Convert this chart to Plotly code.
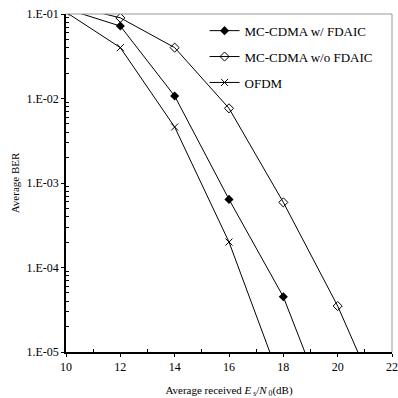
import plotly.graph_objects as go

snr_fdaic = [10, 12, 14, 16, 18, 20]
ber_fdaic = [0.115, 0.072, 0.0107, 6.4e-4, 4.5e-5, 1.0e-6]

snr_nofdaic = [10, 12, 14, 16, 18, 20, 22]
ber_nofdaic = [0.13, 0.090, 0.040, 7.65e-3, 5.9e-4, 3.5e-5, 1.2e-6]

snr_ofdm = [10, 12, 14, 16, 18]
ber_ofdm = [0.105, 0.040, 4.6e-3, 2.0e-4, 3.7e-6]

y_major = [1e-5, 1e-4, 1e-3, 1e-2, 1e-1]
y_labels = ["1.E-05", "1.E-04", "1.E-03", "1.E-02", "1.E-01"]
y_minor = [m * 10 ** e for e in range(-5, -1) for m in range(2, 10)]
x_major = [10, 12, 14, 16, 18, 20, 22]
x_minor = [11, 13, 15, 17, 19, 21]

FONT = "Liberation Serif"

fig = go.Figure()
fig.add_trace(go.Scatter(x=snr_fdaic, y=ber_fdaic, mode="lines+markers",
                         name="MC-CDMA w/ FDAIC", legendgroup="a",
                         line=dict(color="black", width=1),
                         marker=dict(symbol="diamond", size=7, color="black")))
fig.add_trace(go.Scatter(x=snr_nofdaic, y=ber_nofdaic, mode="lines+markers",
                         name="MC-CDMA w/o FDAIC", legendgroup="b",
                         line=dict(color="black", width=1),
                         marker=dict(symbol="diamond-open", size=7, color="black",
                                     line=dict(width=1))))
fig.add_trace(go.Scatter(x=snr_ofdm, y=ber_ofdm, mode="lines+markers",
                         name="OFDM", legendgroup="c",
                         line=dict(color="black", width=1),
                         marker=dict(symbol="x-thin", size=7, color="black",
                                     line=dict(width=1, color="black"))))

fig.update_layout(
    width=398, height=398,
    margin=dict(l=66, r=6, t=14, b=46, autoexpand=False),
    paper_bgcolor="white", plot_bgcolor="white",
    font=dict(family=FONT, size=12, color="black"),
    showlegend=True,
    legend=dict(x=0.425, y=0.995, xanchor="left", yanchor="top",
                bgcolor="rgba(0,0,0,0)", font=dict(family=FONT, size=13),
                traceorder="grouped", tracegroupgap=6, itemwidth=30),
    xaxis=dict(range=[10, 22], tickmode="array", tickvals=x_major,
               ticks="outside", ticklen=3, tickcolor="black", tickwidth=1,
               showgrid=False, zeroline=False, showline=True, linecolor="black",
               linewidth=1.5, mirror=False, automargin=False,
               ticklabeloverflow="allow",
               tickfont=dict(family=FONT, size=12),
               minor=dict(tickmode="array", tickvals=x_minor, ticks="inside",
                          ticklen=3, tickcolor="black", showgrid=False),
               title=dict(text="Average received <i>E</i><sub> s</sub>/<i>N</i><sub> 0</sub>(dB)",
                          font=dict(family=FONT, size=11), standoff=14)),
    yaxis=dict(type="log", range=[-5, -1], tickmode="array", tickvals=y_major,
               ticktext=y_labels, ticks="outside", ticklen=3, tickcolor="black",
               tickwidth=1, showgrid=False, zeroline=False, showline=True,
               linecolor="black", linewidth=1.5, automargin=False,
               ticklabeloverflow="allow",
               tickfont=dict(family=FONT, size=12),
               minor=dict(tickmode="array", tickvals=y_minor, ticks="inside",
                          ticklen=3, tickcolor="black", showgrid=False),
               title=dict(text="Average BER", font=dict(family=FONT, size=11),
                          standoff=5)),
    shapes=[
        dict(type="line", xref="paper", yref="paper", x0=0, x1=1, y0=1, y1=1,
             line=dict(color="#999999", width=1)),
        dict(type="line", xref="paper", yref="paper", x0=1, x1=1, y0=0, y1=1,
             line=dict(color="#999999", width=1)),
    ],
)

fig.write_html("out.html", config={"displayModeBar": False},
               post_script="document.body.style.margin='0';document.body.style.overflow='hidden';")
